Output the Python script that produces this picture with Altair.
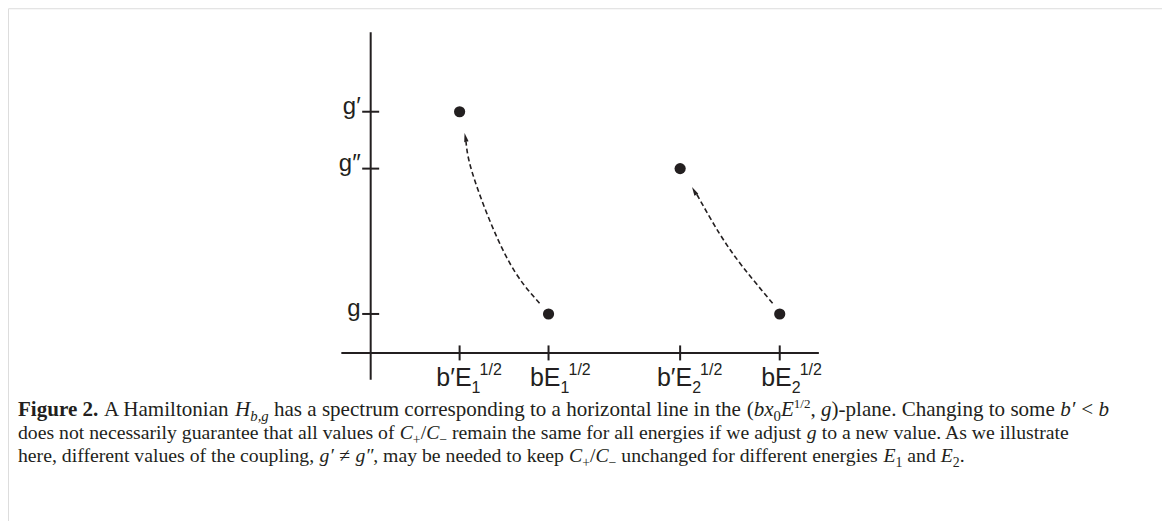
import altair as alt
import pandas as pd

# ---------------- data ----------------
tick_x = [1.0, 2.0, 3.48, 4.6]
tick_base = ["b\u2032E", "bE", "b\u2032E", "bE"]
tick_sub = ["1", "1", "2", "2"]
tick_sup = ["1/2", "1/2", "1/2", "1/2"]

g_levels = [1.0, 4.73, 6.19]
g_labels = ["g", "g\u2033", "g\u2032"]

point_x = [1.0, 2.0, 3.48, 4.6]
point_y = [6.19, 1.0, 4.73, 1.0]

arrow1_x = [1.899, 1.525, 1.169, 1.072]
arrow1_y = [1.274, 2.469, 4.436, 5.42]
arrow2_x = [4.520, 4.183, 3.921, 3.66]
arrow2_y = [1.274, 2.213, 3.069, 4.10]
head_x = [1.066, 3.638]
head_y = [5.53, 4.16]
head_angle = [348, 331]

yaxis_ext = [-0.69, 8.23]
xaxis_ext = [-0.33, 5.04]

# caption runs per line: (text, style)
caption_lines = [
    [("Figure 2.", "bold"), (" A Hamiltonian ", "reg"), ("H", "ital"), ("b,g", "subi"),
     (" has a spectrum corresponding to a horizontal line in the ", "reg"),
     ("(", "reg"), ("bx", "ital"), ("0", "sub"), ("E", "ital"), ("1/2", "sup"),
     (", ", "reg"), ("g", "ital"), (")-plane. Changing to some ", "reg"),
     ("b\u2032", "ital"), (" < ", "reg"), ("b", "ital")],
    [("does not necessarily guarantee that all values of ", "reg"),
     ("C", "ital"), ("+", "sub"), ("/", "reg"), ("C", "ital"), ("\u2212", "sub"),
     (" remain the same for all energies if we adjust ", "reg"), ("g", "ital"),
     (" to a new value. As we illustrate", "reg")],
    [("here, different values of the coupling, ", "reg"), ("g\u2032", "ital"),
     (" \u2260 ", "reg"), ("g\u2033", "ital"), (", may be needed to keep ", "reg"),
     ("C", "ital"), ("+", "sub"), ("/", "reg"), ("C", "ital"), ("\u2212", "sub"),
     (" unchanged for different energies ", "reg"), ("E", "ital"), ("1", "sub"),
     (" and ", "reg"), ("E", "ital"), ("2", "sub"), (".", "reg")],
]
# set width of each caption line (pixels); None = natural width at previous size
caption_widths = [1092.0, 1053.0, None]

# ---------------- layout ----------------
W, H = 1155, 520
PX_X, PX_Y = 89.0, 39.0
X0, Y0 = 363.0, 345.0
xdom = [-X0 / PX_X, (W - X0) / PX_X]
ydom = [(Y0 - H) / PX_Y, Y0 / PX_Y]

INK = "#231f20"
SANS = "Liberation Sans, Arial, Helvetica, sans-serif"
SERIF = "Liberation Serif, Times New Roman, serif"

# Times metrics (per em) used to chain the caption runs
ROMAN = {" ": .25, "!": .333, "(": .333, ")": .333, "+": .564, ",": .25, "-": .333,
         ".": .25, "/": .278, ":": .278, ";": .278, "<": .564, "=": .564, ">": .564,
         "\u2260": .564, "\u2212": .564, "\u2032": .25, "\u2033": .4,
         "A": .722, "B": .667, "C": .667, "D": .722, "E": .611, "F": .556, "G": .722,
         "H": .722, "I": .333, "J": .389, "K": .722, "L": .611, "M": .889, "N": .722,
         "O": .722, "P": .556, "Q": .722, "R": .667, "S": .556, "T": .611, "U": .722,
         "V": .722, "W": .944, "X": .722, "Y": .722, "Z": .611,
         "a": .444, "b": .5, "c": .444, "d": .5, "e": .444, "f": .333, "g": .5, "h": .5,
         "i": .278, "j": .278, "k": .5, "l": .278, "m": .778, "n": .5, "o": .5, "p": .5,
         "q": .5, "r": .333, "s": .389, "t": .278, "u": .5, "v": .5, "w": .722, "x": .5,
         "y": .5, "z": .444}
BOLD = dict(ROMAN, **{"F": .611, "u": .556, "r": .444, "g": .5, "e": .444})
ITAL = dict(ROMAN, **{"x": .444, "f": .278, "g": .5, "b": .5})

def em(text, table):
    return sum(table.get(c, 0.5) if not c.isdigit() else 0.5 for c in text)

styles = {
    "reg": dict(scale=1.0, fontStyle="normal", fontWeight="normal", dy=0, table=ROMAN),
    "bold": dict(scale=1.0, fontStyle="normal", fontWeight="bold", dy=0, table=BOLD),
    "ital": dict(scale=1.0, fontStyle="italic", fontWeight="normal", dy=0, table=ITAL),
    "subi": dict(scale=0.7, fontStyle="italic", fontWeight="normal", dy=5, table=ITAL),
    "sub": dict(scale=0.7, fontStyle="normal", fontWeight="normal", dy=5, table=ROMAN),
    "sup": dict(scale=0.62, fontStyle="normal", fontWeight="normal", dy=-8, table=ROMAN),
}

CAP_LEFT = 10.0
line_base = [408, 431, 454]

rows = []
size_prev = None
for li, runs in enumerate(caption_lines):
    line_em = sum(em(t, styles[s]["table"]) * styles[s]["scale"] for t, s in runs)
    base_size = caption_widths[li] / line_em if caption_widths[li] else size_prev
    size_prev = base_size
    cur = CAP_LEFT
    for text, st in runs:
        sd = styles[st]
        size = base_size * sd["scale"]
        lead = len(text) - len(text.lstrip(" "))
        stripped = text.strip(" ")
        start = cur + lead * ROMAN[" "] * size
        rows.append({"px": start, "py": line_base[li], "text": stripped, "style": st,
                     "fs": round(size, 2), "dy": sd["dy"] * base_size / 21.0})
        cur += em(text, sd["table"]) * size
cap_df = pd.DataFrame(rows)
cap_df["py"] = cap_df["py"] + cap_df["dy"]

xs = alt.Scale(domain=xdom, nice=False, zero=False)
ys = alt.Scale(domain=ydom, nice=False, zero=False)

def X(f):
    return alt.X(f, type="quantitative", scale=xs, axis=None)
def Y(f):
    return alt.Y(f, type="quantitative", scale=ys, axis=None)

# axes lines
yaxis_df = pd.DataFrame({"x": [0.0], "y": [yaxis_ext[0]], "y2": [yaxis_ext[1]]})
xaxis_df = pd.DataFrame({"x": [xaxis_ext[0]], "x2": [xaxis_ext[1]], "y": [0.0]})
yaxis = alt.Chart(yaxis_df).mark_rule(color=INK, strokeWidth=2).encode(
    x=X("x"), y=Y("y"), y2="y2")
xaxis = alt.Chart(xaxis_df).mark_rule(color=INK, strokeWidth=2).encode(
    x=X("x"), x2="x2", y=Y("y"))

xt_df = pd.DataFrame({"x": tick_x, "y": [0.0] * len(tick_x),
                      "base": tick_base, "sub": tick_sub, "sup": tick_sup})
xticks = alt.Chart(xt_df).mark_tick(color=INK, orient="vertical", size=15,
                                    thickness=2, opacity=1).encode(x=X("x"), y=Y("y"))
xlab_base = alt.Chart(xt_df).mark_text(font=SANS, fontSize=25, color=INK, align="right",
                                       baseline="alphabetic", dx=12, dy=33).encode(
    x=X("x"), y=Y("y"), text="base")
xlab_sub = alt.Chart(xt_df).mark_text(font=SANS, fontSize=16, color=INK, align="left",
                                      baseline="alphabetic", dx=12, dy=40).encode(
    x=X("x"), y=Y("y"), text="sub")
xlab_sup = alt.Chart(xt_df).mark_text(font=SANS, fontSize=16, color=INK, align="left",
                                      baseline="alphabetic", dx=20, dy=22).encode(
    x=X("x"), y=Y("y"), text="sup")

yt_df = pd.DataFrame({"x": [0.0] * len(g_levels), "y": g_levels, "lab": g_labels})
yticks = alt.Chart(yt_df).mark_tick(color=INK, orient="horizontal", size=17,
                                    thickness=2, opacity=1).encode(x=X("x"), y=Y("y"))
ylab = alt.Chart(yt_df).mark_text(font=SANS, fontSize=24, color=INK, align="right",
                                  baseline="alphabetic", dx=-10, dy=2).encode(
    x=X("x"), y=Y("y"), text="lab")

pts_df = pd.DataFrame({"x": point_x, "y": point_y})
pts = alt.Chart(pts_df).mark_circle(size=125, color=INK, opacity=1).encode(
    x=X("x"), y=Y("y"))

arr_df = pd.DataFrame({
    "x": arrow1_x + arrow2_x,
    "y": arrow1_y + arrow2_y,
    "id": ["a1"] * len(arrow1_x) + ["a2"] * len(arrow2_x),
    "o": list(range(len(arrow1_x))) + list(range(len(arrow2_x))),
})
arrows = alt.Chart(arr_df).mark_line(color=INK, strokeWidth=1.6, strokeDash=[5, 3],
                                     interpolate="natural").encode(
    x=X("x"), y=Y("y"), detail="id:N", order="o:Q")

head_df = pd.DataFrame({"x": head_x, "y": head_y, "a": head_angle})
heads = alt.Chart(head_df).mark_point(shape="M0,-1L-0.5,1L0.5,1Z", size=80, filled=True,
                                      color=INK, opacity=1, strokeWidth=0).encode(
    x=X("x"), y=Y("y"), angle=alt.Angle("a:Q", scale=None))

cap_layers = []
for name, st in styles.items():
    sub = cap_df[cap_df["style"] == name]
    if len(sub) == 0:
        continue
    cap_layers.append(
        alt.Chart(sub).mark_text(font=SERIF, color=INK, align="left", baseline="alphabetic",
                                 fontStyle=st["fontStyle"],
                                 fontWeight=st["fontWeight"]).encode(
            x=alt.X("px:Q", scale=None, axis=None),
            y=alt.Y("py:Q", scale=None, axis=None),
            size=alt.Size("fs:Q", scale=None, legend=None),
            text="text:N")
    )

chart = alt.layer(yaxis, xaxis, xticks, yticks, arrows, heads, pts,
                  xlab_base, xlab_sub, xlab_sup, ylab, *cap_layers).properties(
    width=W, height=H, padding=0,
    autosize=alt.AutoSizeParams(type="none"),
).configure_view(stroke="#999999", strokeWidth=2).configure(background="white")

chart.save("out.html", embed_options={"renderer": "svg", "actions": False})
